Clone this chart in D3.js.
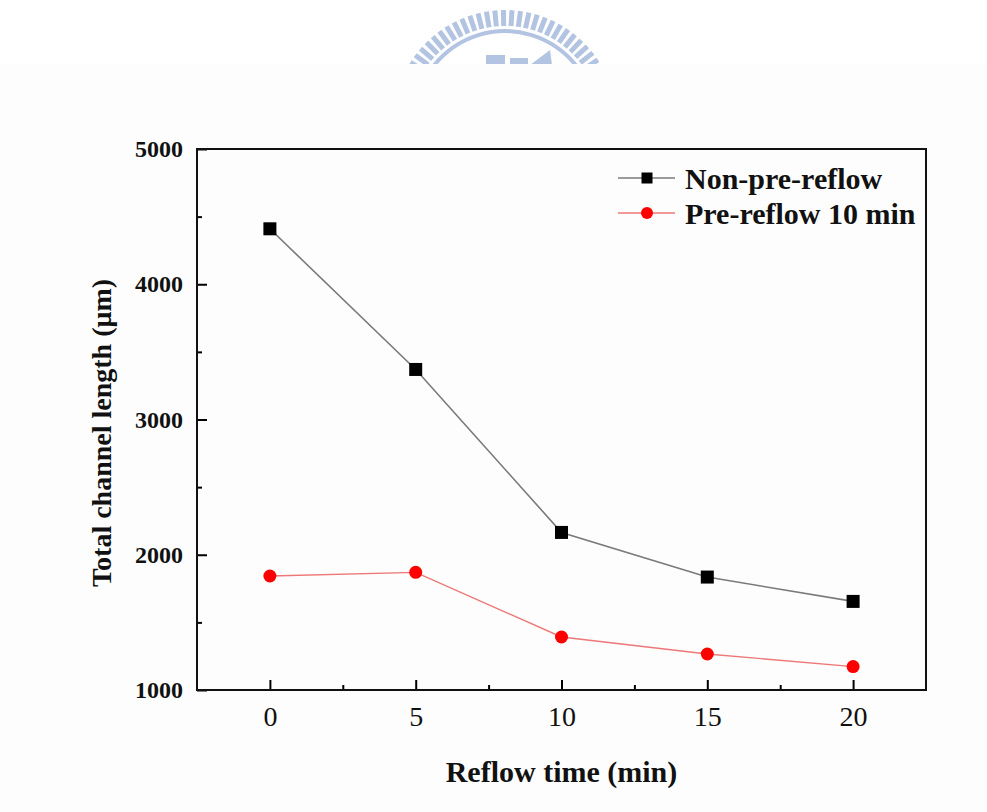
<!DOCTYPE html>
<html>
<head>
<meta charset="utf-8">
<script src="https://cdn.jsdelivr.net/npm/d3@7"></script>
<style>
  html, body { margin: 0; padding: 0; background: #ffffff; }
  svg { display: block; }
</style>
</head>
<body>
<svg id="chart" width="987" height="812"></svg>
<script>
// Reflow time (min) on the x axis
const reflowTimes = [0, 5, 10, 15, 20];
// Total channel length (µm) for each condition
const nonPreReflow = [4410, 3370, 2165, 1835, 1655];
const preReflow10 = [1843, 1870, 1392, 1266, 1173];
const seriesNames = ["Non-pre-reflow", "Pre-reflow 10 min"];
const xTickValues = [0, 5, 10, 15, 20];
const xMinorTicks = [2.5, 7.5, 12.5, 17.5];
const yTickValues = [1000, 2000, 3000, 4000, 5000];
const yMinorTicks = [1500, 2500, 3500, 4500];

const svg = d3.select("#chart");
const serif = "'Liberation Serif', 'Times New Roman', serif";

// Emblem at the top of the page (ring of short bars)
const emblem = svg.append("g").attr("fill", "#b3c3e2");
const ecx = 505, ecy = 121.5, R = 111.5;
for (let a = -58; a <= 58; a += 4.4) {
  emblem.append("rect")
    .attr("x", -2.5).attr("y", -R).attr("width", 5).attr("height", 16)
    .attr("transform", `translate(${ecx},${ecy}) rotate(${a})`);
}
emblem.append("path")
  .attr("d", d3.arc().innerRadius(R - 23).outerRadius(R - 19).startAngle(-1.2).endAngle(1.2)())
  .attr("transform", `translate(${ecx},${ecy})`);
emblem.append("rect").attr("x", 486).attr("y", 55).attr("width", 19).attr("height", 10);
emblem.append("rect").attr("x", 510).attr("y", 58).attr("width", 18).attr("height", 7);
emblem.append("path").attr("d", "M530,65 L550,50 L552,65 Z");

// Light page panel behind the figure
svg.append("rect").attr("x", 0).attr("y", 64).attr("width", 987).attr("height", 748)
  .attr("fill", "#fdfdfd");

const plotLeft = 197, plotRight = 926, plotTop = 149, plotBottom = 690;
const x = d3.scaleLinear().domain([-2.5, 22.5]).range([plotLeft, plotRight]);
const y = d3.scaleLinear().domain([1000, 5000]).range([plotBottom, plotTop]);

// Minor ticks
svg.append("g").attr("transform", `translate(0,${plotBottom})`)
  .call(d3.axisBottom(x).tickValues(xMinorTicks).tickSize(-5).tickFormat(""))
  .call(g => g.select(".domain").remove())
  .call(g => g.selectAll("line").attr("stroke", "#000").attr("stroke-width", 2));
svg.append("g").attr("transform", `translate(${plotLeft},0)`)
  .call(d3.axisLeft(y).tickValues(yMinorTicks).tickSize(-5).tickFormat(""))
  .call(g => g.select(".domain").remove())
  .call(g => g.selectAll("line").attr("stroke", "#000").attr("stroke-width", 2));

// Major ticks and labels
svg.append("g").attr("transform", `translate(0,${plotBottom})`)
  .call(d3.axisBottom(x).tickValues(xTickValues).tickSize(-10).tickPadding(16).tickFormat(d3.format("d")))
  .call(g => g.select(".domain").remove())
  .call(g => g.selectAll("line").attr("stroke", "#000").attr("stroke-width", 2))
  .call(g => g.selectAll("text").attr("font-family", serif).attr("font-size", 28).attr("fill", "#111"));
svg.append("g").attr("transform", `translate(${plotLeft},0)`)
  .call(d3.axisLeft(y).tickValues(yTickValues).tickSize(-10).tickPadding(14).tickFormat(d3.format("d")))
  .call(g => g.select(".domain").remove())
  .call(g => g.selectAll("line").attr("stroke", "#000").attr("stroke-width", 2))
  .call(g => g.selectAll("text").attr("font-family", serif).attr("font-size", 24)
    .attr("font-weight", "bold").attr("fill", "#111"));

// Frame
svg.append("rect").attr("x", plotLeft).attr("y", plotTop)
  .attr("width", plotRight - plotLeft).attr("height", plotBottom - plotTop)
  .attr("fill", "none").attr("stroke", "#111").attr("stroke-width", 2);

// Series
const line = d3.line().x((d, i) => x(reflowTimes[i])).y(d => y(d));
svg.append("path").datum(nonPreReflow).attr("d", line)
  .attr("fill", "none").attr("stroke", "#7a7a7a").attr("stroke-width", 1.6);
svg.append("path").datum(preReflow10).attr("d", line)
  .attr("fill", "none").attr("stroke", "#ee7777").attr("stroke-width", 1.4);

svg.append("g").selectAll("rect").data(nonPreReflow).join("rect")
  .attr("x", (d, i) => x(reflowTimes[i]) - 6.5).attr("y", d => y(d) - 6.5)
  .attr("width", 13).attr("height", 13).attr("fill", "#000");
svg.append("g").selectAll("circle").data(preReflow10).join("circle")
  .attr("cx", (d, i) => x(reflowTimes[i])).attr("cy", d => y(d))
  .attr("r", 6.5).attr("fill", "#ff0000");

// Legend
const legend = svg.append("g");
[178, 213].forEach((ly, k) => {
  legend.append("line").attr("x1", 618).attr("x2", 675).attr("y1", ly).attr("y2", ly)
    .attr("stroke", k === 0 ? "#7a7a7a" : "#ee7777").attr("stroke-width", 1.5);
  if (k === 0) {
    legend.append("rect").attr("x", 641.5).attr("y", ly - 5.5).attr("width", 11).attr("height", 11).attr("fill", "#000");
  } else {
    legend.append("circle").attr("cx", 647).attr("cy", ly).attr("r", 6).attr("fill", "#ff0000");
  }
  legend.append("text").attr("x", 685).attr("y", ly).attr("dy", "0.35em")
    .attr("font-family", serif).attr("font-weight", "bold").attr("font-size", 30)
    .attr("fill", "#111").text(seriesNames[k]);
});

// Axis titles
svg.append("text").attr("x", (plotLeft + plotRight) / 2).attr("y", 782)
  .attr("text-anchor", "middle").attr("font-family", serif).attr("font-weight", "bold")
  .attr("font-size", 30).attr("fill", "#111").text("Reflow time (min)");
svg.append("text").attr("transform", `translate(111,433) rotate(-90)`)
  .attr("text-anchor", "middle").attr("font-family", serif).attr("font-weight", "bold")
  .attr("font-size", 28).attr("fill", "#111").text("Total channel length (μm)");
</script>
</body>
</html>
